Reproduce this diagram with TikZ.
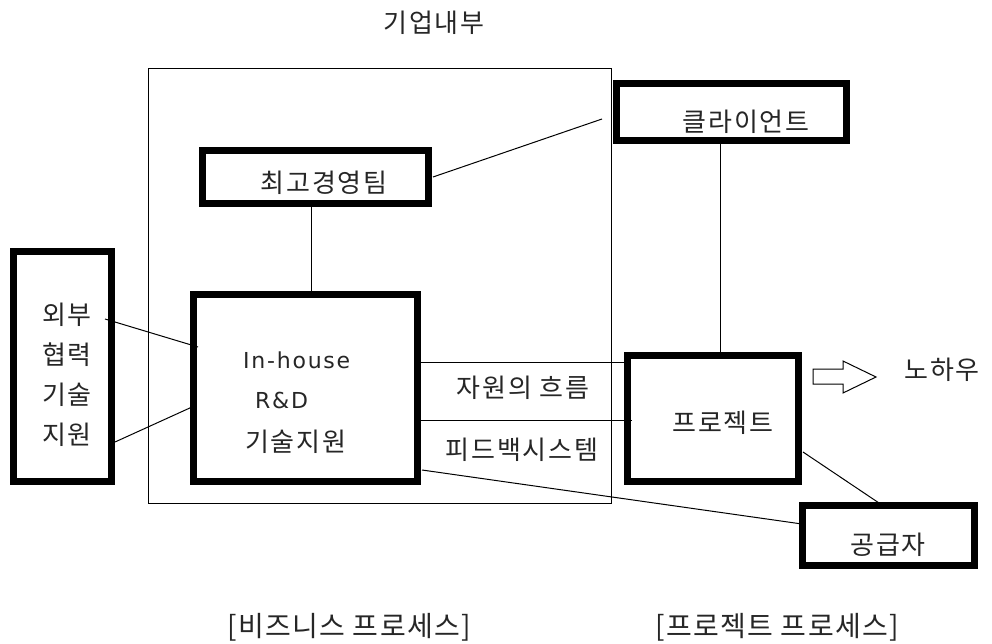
\documentclass[tikz,border=0pt]{standalone}
\usepackage{fontspec}
\newfontfamily\kr[LetterSpace=7]{Noto Sans CJK KR}
\newfontfamily\krb[LetterSpace=5]{Noto Sans CJK KR}
\newfontfamily\latf[LetterSpace=8]{DejaVu Sans}
\begin{document}
\begin{tikzpicture}[x=1pt,y=-1pt,
  thickbox/.style={draw=black,line width=7pt,minimum width=#1,inner sep=0pt},
  thin/.style={draw=black,line width=1pt},
  lbl/.style={font=\kr\fontsize{26}{30}\selectfont,inner sep=0pt,text=black!85},
  lat/.style={font=\latf\fontsize{22}{26}\selectfont,inner sep=0pt,text=black!85},
  captxt/.style={font=\krb\fontsize{28}{32}\selectfont,inner sep=0pt,text=black!85}]
\useasboundingbox (0,0) rectangle (992,644);
\fill[white] (0,0) rectangle (992,644);

% outer company box
\node[thin,minimum width=463pt,minimum height=434pt,inner sep=0pt] (inner) at (379.5,286) {};
\node[lbl,anchor=center] (innerlbl) at (434,23) {기업내부};

% boxes
\node[thickbox=226pt,minimum height=53pt] (top) at (315,177.5) {};
\node[thickbox=230pt,minimum height=57pt] (client) at (731,112.5) {};
\node[thickbox=98pt,minimum height=230pt] (ext) at (62,366) {};
\node[thickbox=224pt,minimum height=187pt] (rd) at (305,387.5) {};
\node[thickbox=171pt,minimum height=126pt] (proj) at (712.5,418) {};
\node[thickbox=172pt,minimum height=60pt] (supp) at (888,535) {};

% texts
\node[lbl] (toptxt) at (324,182.5) {최고경영팀};
\node[lbl] (clienttxt) at (746,122) {클라이언트};
\node[lbl] (ext1) at (67,315) {외부};
\node[lbl] (ext2) at (67,355) {협력};
\node[lbl] (ext3) at (67,395) {기술};
\node[lbl] (ext4) at (67,435) {지원};
\node[lat,anchor=west] (rd1) at (243,360) {In-house};
\node[lat,anchor=west] (rd2) at (255,400) {R\&D};
\node[lbl,anchor=west] (rd3) at (245,442) {기술지원};
\node[lbl] (flow) at (523,388) {자원의 흐름};
\node[lbl] (fb) at (522,450) {피드백시스템};
\node[lbl] (projtxt) at (723,423) {프로젝트};
\node[lbl] (supptxt) at (888,545) {공급자};
\node[lbl] (know) at (942,370) {노하우};
\node[captxt,anchor=west] (bp) at (227,627) {[비즈니스 프로세스]};
\node[captxt,anchor=west] (pp) at (655,627) {[프로젝트 프로세스]};

% connector end points
\coordinate (e1s) at (105,319);
\coordinate (e1t) at (198,347);
\coordinate (e2s) at (115,442);
\coordinate (e2t) at (192,407);
\coordinate (tc1) at (433,177);
\coordinate (tc2) at (602,119);
\coordinate (r1) at (417,362);
\coordinate (p1) at (627,362);
\coordinate (r2) at (417,420);
\coordinate (p2) at (632,420);
\coordinate (r3) at (422,470);
\coordinate (s3) at (802,524);
\coordinate (p4) at (803,452);
\coordinate (s4) at (882,505);

% connectors
\draw[thin] (e1s) -- (e1t);
\draw[thin] (e2s) -- (e2t);
\draw[thin] (top.south -| 311,0) -- (rd.north -| 311,0);
\draw[thin] (tc1) -- (tc2);
\draw[thin] (client.south -| 720,0) -- (proj.north -| 720,0);
\draw[thin] (r1) -- (p1);
\draw[thin] (r2) -- (p2);
\draw[thin] (r3) -- (s3);
\draw[thin] (p4) -- (s4);

% hollow arrow
\draw[thin,fill=white] (813,369) -- (843,369) -- (843,361) -- (876,377) -- (843,393) -- (843,384) -- (813,384) -- cycle;
\end{tikzpicture}
\end{document}
